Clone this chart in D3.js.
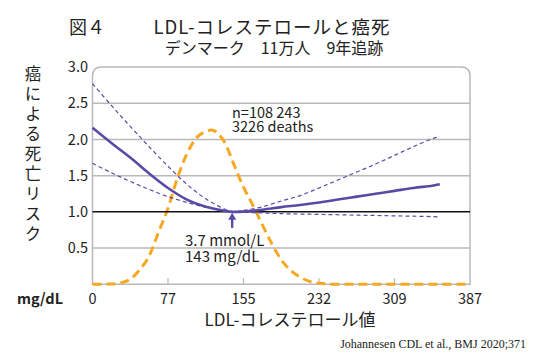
<!DOCTYPE html>
<html><head><meta charset="utf-8">
<script src="https://cdn.jsdelivr.net/npm/d3@7"></script>
<style>
html,body{margin:0;padding:0;background:#fff;}
svg{display:block;}
text{font-family:"Noto Sans CJK JP","Noto Sans",sans-serif;fill:#222;}
</style></head>
<body>
<svg id="c" width="539" height="357"></svg>
<script>
// ---- data ----
const xTickPos = [0, 2, 4, 6, 8, 10];            // mmol/L
const xTickLabels = ["0", "77", "155", "232", "309", "387"]; // mg/dL
const yTicks = [0.5, 1.0, 1.5, 2.0, 2.5, 3.0];
const yTickLabels = ["0.5", "1.0", "1.5", "2.0", "2.5", "3.0"];

const ldl = [0, 0.5, 1.0, 1.5, 2.0, 2.5, 3.0, 3.5, 3.7, 4.0, 4.5, 5.0, 5.5, 6.0, 6.5, 7.0, 7.5, 8.0, 8.5, 9.0, 9.2];
const hr      = [2.16, 1.95, 1.75, 1.53, 1.33, 1.17, 1.07, 1.015, 1.0, 1.005, 1.03, 1.065, 1.095, 1.13, 1.17, 1.21, 1.25, 1.29, 1.33, 1.36, 1.38];
const hrUpper = [2.77, 2.47, 2.18, 1.90, 1.63, 1.38, 1.18, 1.04, 1.0, 1.02, 1.07, 1.15, 1.225, 1.33, 1.44, 1.55, 1.66, 1.78, 1.90, 2.01, 2.04];
const hrLower = [1.67, 1.54, 1.42, 1.31, 1.21, 1.13, 1.065, 1.015, 1.0, 0.995, 0.985, 0.975, 0.97, 0.965, 0.96, 0.955, 0.95, 0.945, 0.94, 0.935, 0.93];

const distX = [0, 0.5, 0.75, 1.0, 1.25, 1.5, 1.75, 2.0, 2.25, 2.5, 2.75, 3.0, 3.15, 3.35, 3.5, 3.75, 4.0, 4.25, 4.5, 4.75, 5.0, 5.25, 5.5, 5.75, 6.0, 6.5, 10];
const distY = [0, 0.005, 0.02, 0.07, 0.2, 0.39, 0.72, 1.05, 1.47, 1.80, 2.02, 2.11, 2.13, 2.07, 1.96, 1.65, 1.34, 1.09, 0.82, 0.56, 0.34, 0.19, 0.10, 0.04, 0.015, 0, 0];

const refLDL = 3.7;

// ---- chart ----
const svg = d3.select("#c");
const L = 92.5, R = 470, T = 67, B = 284.3;
const x = d3.scaleLinear().domain([0, 10]).range([L, R]);
const y = d3.scaleLinear().domain([0, 3]).range([B, T]);
const purple = "#5a4aa6", orange = "#f7a823", grid = "#b9b9b9";

// frame with rounded top corners
const r = 9;
svg.append("path")
  .attr("d", `M${L},${B} L${L},${T + r} Q${L},${T} ${L + r},${T} L${R - r},${T} Q${R},${T} ${R},${T + r} L${R},${B} Z`)
  .attr("fill", "#fff").attr("stroke", grid).attr("stroke-width", 1.5);

// gridlines
svg.append("g").selectAll("line").data(yTicks.filter(v => v !== 1.0 && v !== 3.0)).join("line")
  .attr("x1", L).attr("x2", R).attr("y1", d => y(d)).attr("y2", d => y(d))
  .attr("stroke", grid).attr("stroke-width", 1.5);

// x ticks (inside)
svg.append("g").selectAll("line").data(xTickPos.slice(1, -1)).join("line")
  .attr("x1", d => x(d)).attr("x2", d => x(d)).attr("y1", B).attr("y2", B - 6)
  .attr("stroke", grid).attr("stroke-width", 1.2);

// y tick labels
svg.append("g").selectAll("text").data(yTicks).join("text")
  .attr("x", 88).attr("y", d => y(d)).attr("dy", "0.35em").attr("text-anchor", "end")
  .attr("font-size", 14.5).text((d, i) => yTickLabels[i]);

// x tick labels
svg.append("g").selectAll("text").data(xTickPos).join("text")
  .attr("x", d => x(d)).attr("y", 299).attr("dy", "0.35em").attr("text-anchor", "middle")
  .attr("font-size", 14.5).text((d, i) => xTickLabels[i]);

svg.append("text").attr("x", 40).attr("y", 299).attr("dy", "0.35em").attr("text-anchor", "middle")
  .attr("font-size", 14.5).attr("font-weight", "bold").text("mg/dL");

// orange distribution
const lineD = d3.line().x(d => x(d[0])).y(d => y(d[1])).curve(d3.curveMonotoneX);
const lineS = d3.line().x(d => x(d[0])).y(d => y(d[1])).curve(d3.curveCatmullRom.alpha(0.5));
svg.append("path").datum(distX.map((v, i) => [v, distY[i]]))
  .attr("d", lineD).attr("fill", "none").attr("stroke", orange)
  .attr("stroke-width", 3).attr("stroke-dasharray", "9,5");

// reference line
svg.append("line").attr("x1", L).attr("x2", R).attr("y1", y(1)).attr("y2", y(1))
  .attr("stroke", "#111").attr("stroke-width", 1.5);

// CI lines
[hrUpper, hrLower].forEach(arr => {
  svg.append("path").datum(ldl.map((v, i) => [v, arr[i]]))
    .attr("d", lineS).attr("fill", "none").attr("stroke", purple)
    .attr("stroke-width", 1.2).attr("stroke-dasharray", "4,3");
});
// HR line
svg.append("path").datum(ldl.map((v, i) => [v, hr[i]]))
  .attr("d", lineS).attr("fill", "none").attr("stroke", purple).attr("stroke-width", 2.6);

// arrow
const ax = x(refLDL), ay = y(1);
svg.append("line").attr("x1", ax).attr("x2", ax).attr("y1", ay + 6).attr("y2", ay + 16)
  .attr("stroke", purple).attr("stroke-width", 2.4);
svg.append("path").attr("d", `M${ax},${ay + 1} L${ax - 4},${ay + 8} L${ax + 4},${ay + 8} Z`).attr("fill", purple);

// annotations (two-line blocks)
function block(xp, y0, lines, size, gap) {
  const t = svg.append("text").attr("x", xp).attr("y", y0).attr("font-size", size);
  lines.forEach((s, i) => t.append("tspan").attr("x", xp).attr("dy", i === 0 ? 0 : gap).text(s));
}
block(185, 246, ["3.7 mmol/L", "143 mg/dL"], 15, 15.5);
block(232, 117.5, ["n=108 243", "3226 deaths"], 14.5, 14.3);

// titles
svg.append("text").attr("x", 69).attr("y", 34).attr("font-size", 18).text("図４");
svg.append("text").attr("x", 272).attr("y", 34).attr("text-anchor", "middle").attr("font-size", 18.5)
  .attr("letter-spacing", 1).text("LDL-コレステロールと癌死");
svg.append("text").attr("x", 274).attr("y", 54).attr("text-anchor", "middle").attr("font-size", 16)
  .text("デンマーク　11万人　9年追跡");

// y-axis title (vertical)
svg.append("text")
  .attr("x", 33).attr("y", 65)
  .style("writing-mode", "vertical-rl").style("text-orientation", "upright")
  .attr("font-size", 16.5).attr("letter-spacing", 3.5)
  .text("癌による死亡リスク");

// x-axis title
svg.append("text").attr("x", 290).attr("y", 326).attr("text-anchor", "middle").attr("font-size", 17)
  .text("LDL-コレステロール値");

// citation
svg.append("text").attr("x", 526).attr("y", 348).attr("text-anchor", "end")
  .attr("font-size", 12).style("font-family", "'Liberation Serif','Times New Roman',serif")
  .text("Johannesen CDL et al., BMJ 2020;371");
</script>
</body></html>
